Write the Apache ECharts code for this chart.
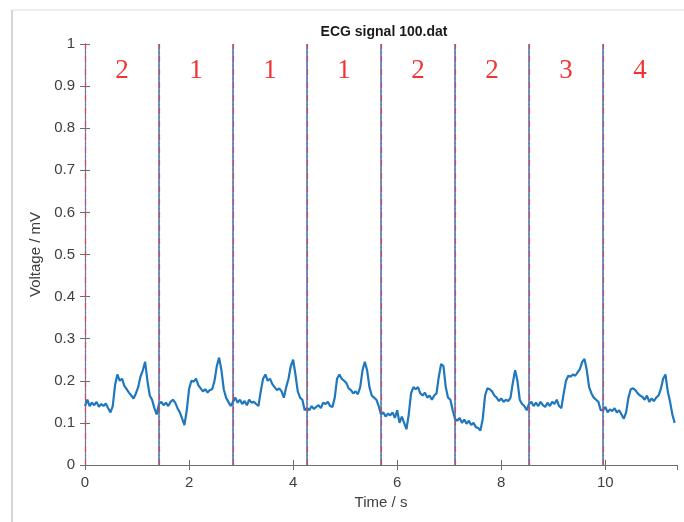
<!DOCTYPE html>
<html>
<head>
<meta charset="utf-8">
<title>ECG signal 100.dat</title>
<script src="https://cdn.jsdelivr.net/npm/echarts@6/dist/echarts.min.js"></script>
<style>
	html, body { margin: 0; padding: 0; background: #fff; }
	#ecg { width: 684px; height: 522px; }
</style>
</head>
<body>
<div id="ecg"></div>
<script>
// 分段长度 512 点 @ 360 Hz
var segLen = 1.42222;
var samplesPerSeg = 32;
var tMax = 11.37778;

// 各段边界 (s)
var boundaries = [0, 1.42222, 2.84444, 4.26667, 5.68889, 7.11111, 8.53333, 9.95556, 11.37778];

// 各段中心 & 标注
var segCenters = [0.711, 2.133, 3.556, 4.978, 6.4, 7.822, 9.244, 10.667];
var segLabels = ['2', '1', '1', '1', '2', '2', '3', '4'];

// 各段电压 (mV)
var seg1 = [0.14, 0.155, 0.14, 0.148, 0.142, 0.15, 0.138, 0.145, 0.14, 0.146, 0.135, 0.125, 0.14, 0.19, 0.215, 0.2,
	0.205, 0.188, 0.18, 0.172, 0.165, 0.158, 0.17, 0.185, 0.21, 0.225, 0.245, 0.2, 0.165, 0.155, 0.135, 0.12];
var seg2 = [0.145, 0.15, 0.142, 0.148, 0.14, 0.15, 0.155, 0.148, 0.135, 0.125, 0.11, 0.095, 0.13, 0.18, 0.2, 0.198,
	0.205, 0.19, 0.182, 0.175, 0.18, 0.172, 0.178, 0.18, 0.2, 0.235, 0.255, 0.225, 0.18, 0.16, 0.15, 0.14];
var seg3 = [0.15, 0.16, 0.148, 0.155, 0.145, 0.152, 0.142, 0.155, 0.148, 0.15, 0.145, 0.14, 0.175, 0.205, 0.215, 0.2,
	0.205, 0.192, 0.185, 0.178, 0.182, 0.175, 0.16, 0.185, 0.205, 0.235, 0.25, 0.215, 0.175, 0.16, 0.155, 0.13];
var seg4 = [0.135, 0.13, 0.14, 0.133, 0.138, 0.142, 0.135, 0.148, 0.145, 0.15, 0.14, 0.138, 0.16, 0.205, 0.215, 0.205,
	0.2, 0.195, 0.182, 0.178, 0.17, 0.175, 0.168, 0.185, 0.225, 0.245, 0.225, 0.185, 0.165, 0.16, 0.155, 0.14];
var seg5 = [0.12, 0.125, 0.115, 0.122, 0.118, 0.125, 0.112, 0.13, 0.1, 0.115, 0.1, 0.085, 0.12, 0.17, 0.185, 0.18,
	0.185, 0.17, 0.165, 0.172, 0.16, 0.165, 0.155, 0.165, 0.17, 0.21, 0.24, 0.235, 0.185, 0.16, 0.155, 0.13];
var seg6 = [0.11, 0.105, 0.112, 0.1, 0.108, 0.098, 0.105, 0.095, 0.1, 0.09, 0.088, 0.082, 0.11, 0.165, 0.182, 0.18,
	0.175, 0.165, 0.16, 0.152, 0.158, 0.15, 0.155, 0.152, 0.16, 0.195, 0.225, 0.2, 0.155, 0.145, 0.14, 0.13];
var seg7 = [0.145, 0.15, 0.14, 0.148, 0.14, 0.15, 0.142, 0.138, 0.148, 0.14, 0.15, 0.145, 0.155, 0.14, 0.135, 0.17,
	0.2, 0.212, 0.21, 0.215, 0.212, 0.22, 0.228, 0.245, 0.252, 0.225, 0.185, 0.17, 0.16, 0.155, 0.15, 0.13];
var seg8 = [0.13, 0.138, 0.125, 0.132, 0.128, 0.135, 0.125, 0.13, 0.12, 0.11, 0.125, 0.16, 0.18, 0.182, 0.178, 0.17,
	0.165, 0.162, 0.155, 0.165, 0.15, 0.158, 0.152, 0.16, 0.165, 0.18, 0.205, 0.215, 0.175, 0.15, 0.12, 0.1];
var segments = [seg1, seg2, seg3, seg4, seg5, seg6, seg7, seg8];

// y 轴刻度
var yTicks = ['0', '0.1', '0.2', '0.3', '0.4', '0.5', '0.6', '0.7', '0.8', '0.9', '1'];

var ecgData = [];
for (var s = 0; s < segments.length; s++) {
	for (var i = 0; i < segments[s].length; i++) {
		ecgData.push([boundaries[s] + i * segLen / samplesPerSeg, segments[s][i]]);
	}
}

var labelData = [];
for (var k = 0; k < segCenters.length; k++) {
	labelData.push({ value: [segCenters[k], 0.935], name: segLabels[k] });
}

var blueLines = [];
var redLines = [];
for (var b = 0; b < boundaries.length; b++) {
	if (b > 0) blueLines.push({ xAxis: boundaries[b] });
	if (b < boundaries.length - 1) redLines.push({ xAxis: boundaries[b] });
}

var axisColor = '#6e6e6e';
var textColor = '#404040';
var font = '"Liberation Sans", Arial, sans-serif';

var chart = echarts.init(document.getElementById('ecg'));
var option = {
	animation: false,
	backgroundColor: '#fff',
	title: {
		text: 'ECG signal 100.dat',
		left: 379,
		top: 20,
		textAlign: 'center',
		textStyle: { fontFamily: font, fontSize: 14, fontWeight: 'bold', color: '#1a1a1a' }
	},
	graphic: [
		{ type: 'line', shape: { x1: 12, y1: 10, x2: 12, y2: 522 }, style: { stroke: '#c8c8c8', lineWidth: 1.5 } },
		{ type: 'line', shape: { x1: 12, y1: 10, x2: 684, y2: 10 }, style: { stroke: '#dcdcdc', lineWidth: 1 } }
	],
	grid: { left: 85, right: 7, top: 44, bottom: 57 },
	xAxis: [{
		type: 'value',
		min: 0,
		max: tMax,
		interval: 2,
		name: 'Time / s',
		nameLocation: 'middle',
		nameGap: 30,
		nameTextStyle: { fontFamily: font, fontSize: 15, color: textColor },
		axisLine: { lineStyle: { color: axisColor, width: 1 } },
		axisTick: { inside: true, length: 5, lineStyle: { color: axisColor } },
		axisLabel: { showMaxLabel: false, margin: 10, fontFamily: font, fontSize: 15, color: textColor },
		splitLine: { show: false }
	}, {
		type: 'value',
		position: 'top',
		min: 0,
		max: tMax,
		interval: 2,
		axisLine: { lineStyle: { color: axisColor, width: 1 } },
		axisTick: { inside: true, length: 5, lineStyle: { color: axisColor } },
		axisLabel: { show: false },
		splitLine: { show: false }
	}],
	yAxis: [{
		type: 'value',
		min: 0,
		max: 1,
		interval: 0.1,
		name: 'Voltage / mV',
		nameLocation: 'middle',
		nameGap: 41,
		nameTextStyle: { fontFamily: font, fontSize: 15, color: textColor },
		axisLine: { show: true, lineStyle: { color: axisColor, width: 1 } },
		axisTick: { show: true, inside: true, length: 5, lineStyle: { color: axisColor } },
		axisLabel: {
			margin: 10, fontFamily: font, fontSize: 15, color: textColor,
			formatter: function (v) { return yTicks[Math.round(v * 10)]; }
		},
		splitLine: { show: false }
	}, {
		type: 'value',
		position: 'right',
		min: 0,
		max: 1,
		interval: 0.1,
		axisLine: { show: true, lineStyle: { color: '#4f86b8', width: 1.2 } },
		axisTick: { show: true, inside: true, length: 5, lineStyle: { color: axisColor } },
		axisLabel: { show: false },
		splitLine: { show: false }
	}],
	series: [{
		name: 'ECG',
		type: 'line',
		data: ecgData,
		showSymbol: false,
		lineStyle: { color: '#1f77bd', width: 2.2 },
		markLine: {
			silent: true,
			symbol: 'none',
			label: { show: false },
			lineStyle: { color: '#2c79b8', width: 1.5, type: 'solid' },
			data: blueLines
		}
	}, {
		name: 'split',
		type: 'line',
		data: [],
		markLine: {
			silent: true,
			symbol: 'none',
			label: { show: false },
			lineStyle: { color: '#e0405a', width: 1.2, type: [6, 3, 1, 3] },
			data: redLines
		}
	}, {
		name: 'labels',
		type: 'scatter',
		data: labelData,
		symbolSize: 0,
		label: {
			show: true,
			position: 'inside',
			formatter: '{b}',
			fontFamily: '"Liberation Serif", "Times New Roman", serif',
			fontSize: 27,
			color: '#f00000'
		}
	}]
};
chart.setOption(option);

window.onresize = function () {
	chart.resize();
};
</script>
</body>
</html>
